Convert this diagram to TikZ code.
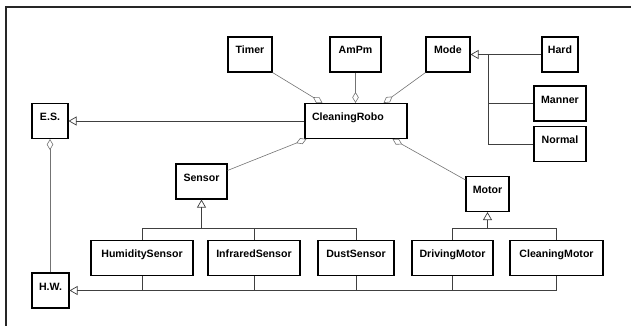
\documentclass[tikz,border=0pt]{standalone}
\usepackage{fontspec}
\setmainfont{Liberation Sans}
\usetikzlibrary{arrows.meta,calc}
\begin{document}
\begin{tikzpicture}[x=1pt,y=-1pt,
 box/.style={draw=black,line width=1.1pt,fill=white,inner xsep=2pt,inner ysep=0pt,
   text height=17pt,text depth=18pt,font=\fontsize{10.6}{12}\selectfont\bfseries},
 assoc/.style={draw=black!55,line width=0.6pt},
 agg/.style={assoc,-{Diamond[open,length=11pt,width=6.5pt]}},
 gen/.style={draw=black!75,line width=0.7pt},
 genarrow/.style={gen,-{Triangle[open,length=8pt,width=9pt]}}]
\useasboundingbox (0,0) rectangle (631,326);
\draw[line width=1.2pt,black!85] (6,326) -- (6,7) -- (631,7);

% boxes
\node[box,minimum width=44pt] (timer) at (250,54.5) {Timer};
\node[box,minimum width=51pt] (ampm) at (355.5,54.5) {AmPm};
\node[box,minimum width=44pt] (mode) at (448,54.5) {Mode};
\node[box,minimum width=36pt] (hard) at (560,54.5) {Hard};
\node[box,minimum width=52pt] (manner) at (560,103.5) {Manner};
\node[box,minimum width=52pt] (normal) at (560,144) {Normal};
\node[box,minimum width=36pt] (es) at (50,121) {E.S.};
\node[box,inner xsep=7pt,text width=88pt,align=left] (cr) at (356,121) {CleaningRobo};
\node[box,minimum width=51pt] (sensor) at (201.5,181.5) {Sensor};
\node[box,minimum width=43pt] (motor) at (487.5,194) {Motor};
\node[box,minimum width=102pt] (hum) at (142,258) {HumiditySensor};
\node[box,minimum width=92pt] (inf) at (254,258) {InfraredSensor};
\node[box,minimum width=76pt] (dust) at (356,258) {DustSensor};
\node[box,minimum width=81pt] (drv) at (452.5,258) {DrivingMotor};
\node[box,minimum width=93pt] (cm) at (556.5,258) {CleaningMotor};
\node[box,minimum width=37pt] (hw) at (50.5,290.5) {H.W.};

% aggregations
\draw[agg] (timer.south east) -- ($(cr.north west)+(18,0)$);
\draw[agg] (ampm.south) -- (ampm.south |- cr.north);
\draw[agg] (mode.south west) -- ($(cr.north east)+(-24,0)$);
\draw[agg] ($(sensor.north east)+(0,7)$) -- ($(cr.south west)+(2,0)$);
\draw[agg] ($(motor.north west)+(0,4)$) -- ($(cr.south east)+(-15,0)$);
\draw[agg] (es.south |- hw.north) -- (es.south);

% generalizations
\draw[genarrow] (cr.west) -- (es.east);
\draw[genarrow] (hard.west) -- (mode.east);
\coordinate (mt) at ($(mode.east)+(18,0)$);
\draw[gen] (mt) |- (normal.west);
\draw[gen] (mt |- manner.west) -- (manner.west);

\coordinate (sb) at ($(hum.north)+(0,-12)$);
\draw[gen] (hum.north) -- (sb) -| (dust.north);
\draw[gen] (inf.north) -- (inf.north |- sb);
\draw[genarrow] (sensor.south |- sb) -- (sensor.south);

\coordinate (mb) at ($(drv.north)+(0,-12)$);
\draw[gen] (drv.north) -- (mb) -| (cm.north);
\draw[genarrow] (motor.south |- mb) -- (motor.south);

\draw[genarrow] (cm.south) |- (hw.east);
\draw[gen] (hum.south) -- (hum.south |- hw.east);
\draw[gen] (inf.south) -- (inf.south |- hw.east);
\draw[gen] (dust.south) -- (dust.south |- hw.east);
\draw[gen] (drv.south) -- (drv.south |- hw.east);
\end{tikzpicture}
\end{document}
